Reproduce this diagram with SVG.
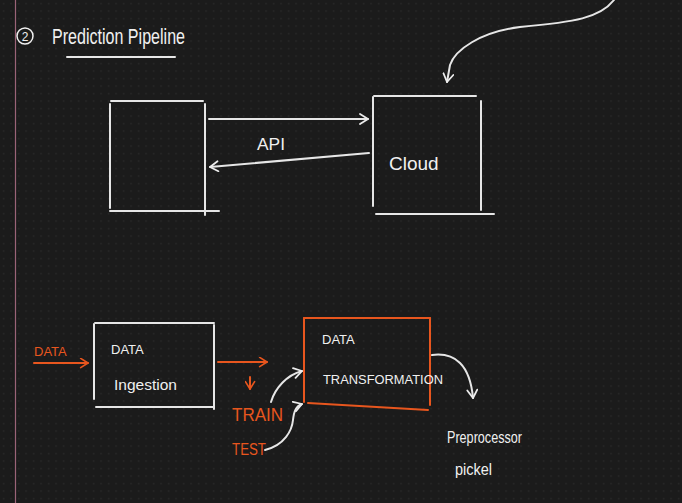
<svg xmlns="http://www.w3.org/2000/svg" width="682" height="503" viewBox="0 0 682 503">
<defs>
<pattern id="dots" x="0" y="0" width="7.5" height="7.5" patternUnits="userSpaceOnUse">
<rect x="3" y="3" width="1.2" height="1.2" fill="#303030"/>
</pattern>
<marker id="openW" viewBox="0 0 12 12" refX="10" refY="6" markerWidth="12" markerHeight="12" markerUnits="userSpaceOnUse" orient="auto">
<path d="M2,1 L10,6 L2,11" fill="none" stroke="#ececec" stroke-width="1.8" stroke-linecap="round" stroke-linejoin="round"/>
</marker>
<marker id="openO" viewBox="0 0 12 12" refX="10" refY="6" markerWidth="11" markerHeight="11" markerUnits="userSpaceOnUse" orient="auto">
<path d="M2,1 L10,6 L2,11" fill="none" stroke="#e8561e" stroke-width="1.8" stroke-linecap="round" stroke-linejoin="round"/>
</marker>
</defs>
<style>
.w{stroke:#e6e6e6;stroke-width:2;fill:none;stroke-linecap:round}
.o{stroke:#e8561e;stroke-width:2;fill:none;stroke-linecap:round}
.tw{fill:#f0f0f0;font-family:"Liberation Sans",Arial,sans-serif}
.to{fill:#e8561e;font-family:"Liberation Sans",Arial,sans-serif}
</style>
<rect width="682" height="503" fill="#1b1b1b"/>
<rect width="682" height="503" fill="url(#dots)"/>
<line x1="15.5" y1="0" x2="15.5" y2="503" stroke="#9a6478" stroke-width="1.2"/>

<g id="title">
<circle cx="25" cy="36" r="8" fill="none" stroke="#f0f0f0" stroke-width="1.5"/>
<text x="25" y="40.5" class="tw" font-size="12" text-anchor="middle">2</text>
<text x="52" y="44" class="tw" font-size="22" textLength="133" lengthAdjust="spacingAndGlyphs">Prediction Pipeline</text>
<line class="w" x1="67" y1="57" x2="175" y2="57" stroke-width="1.6"/>
</g>

<g id="client">
<line class="w" x1="111" y1="101" x2="203" y2="101"/>
<line class="w" x1="110" y1="104" x2="110" y2="208"/>
<line class="w" x1="205" y1="104" x2="205" y2="215"/>
<line class="w" x1="110" y1="211" x2="219" y2="211"/>
</g>

<g id="cloud">
<line class="w" x1="374" y1="96" x2="476" y2="96"/>
<line class="w" x1="373" y1="97" x2="373" y2="206"/>
<line class="w" x1="481" y1="101" x2="481" y2="210"/>
<line class="w" x1="376" y1="214" x2="494" y2="214"/>
<text x="389" y="170" class="tw" font-size="19">Cloud</text>
</g>

<g id="ingestion">
<line class="w" x1="95" y1="323" x2="214" y2="323"/>
<line class="w" x1="94" y1="324" x2="94" y2="399"/>
<line class="w" x1="214" y1="325" x2="214" y2="409"/>
<line class="w" x1="96" y1="407" x2="214" y2="407"/>
<text x="111" y="354" class="tw" font-size="13">DATA</text>
<text x="114" y="390" class="tw" font-size="14" textLength="63" lengthAdjust="spacingAndGlyphs">Ingestion</text>
</g>

<g id="transformation">
<line class="o" x1="304" y1="318" x2="430" y2="318"/>
<line class="o" x1="304" y1="318" x2="304" y2="402"/>
<line class="o" x1="430" y1="318" x2="430" y2="405"/>
<line class="o" x1="308" y1="403" x2="428" y2="410"/>
<text x="322" y="344" class="tw" font-size="13">DATA</text>
<text x="323" y="384" class="tw" font-size="12.5" textLength="120" lengthAdjust="spacingAndGlyphs">TRANSFORMATION</text>
</g>

<g id="data-label">
<text x="34" y="356" class="to" font-size="13">DATA</text>
</g>

<g id="train-test">
<text x="232" y="421" class="to" font-size="18" textLength="51" lengthAdjust="spacingAndGlyphs">TRAIN</text>
<text x="232" y="455" class="to" font-size="16" textLength="34" lengthAdjust="spacingAndGlyphs">TEST</text>
</g>

<g id="preprocessor">
<text x="447" y="443" class="tw" font-size="17" textLength="75" lengthAdjust="spacingAndGlyphs">Preprocessor</text>
<text x="455" y="475" class="tw" font-size="16" textLength="37" lengthAdjust="spacingAndGlyphs">pickel</text>
</g>

<g id="api-label">
<text x="257" y="150" class="tw" font-size="16" textLength="28" lengthAdjust="spacingAndGlyphs">API</text>
</g>

<g id="connectors">
<line class="w" x1="209" y1="119" x2="368" y2="119" marker-end="url(#openW)"/>
<line class="w" x1="369" y1="153" x2="210" y2="167" marker-end="url(#openW)"/>
<path class="w" d="M614,0 C600,18 575,22 520,27 C480,32 455,50 450,65 L447,82" marker-end="url(#openW)"/>
<line class="o" x1="34" y1="363" x2="88" y2="363" marker-end="url(#openO)"/>
<line class="o" x1="218" y1="362" x2="267" y2="362" marker-end="url(#openO)"/>
<line class="o" x1="250" y1="377" x2="250" y2="389" marker-end="url(#openO)"/>
<path class="w" d="M271,402 C275,388 287,375 302,371" marker-end="url(#openW)"/>
<path class="w" d="M265,450 C285,445 292,430 293,420 C294,411 296,406 302,404" marker-end="url(#openW)"/>
<path class="w" d="M432,355 C455,352 470,365 473,398" marker-end="url(#openW)"/>
</g>
</svg>
